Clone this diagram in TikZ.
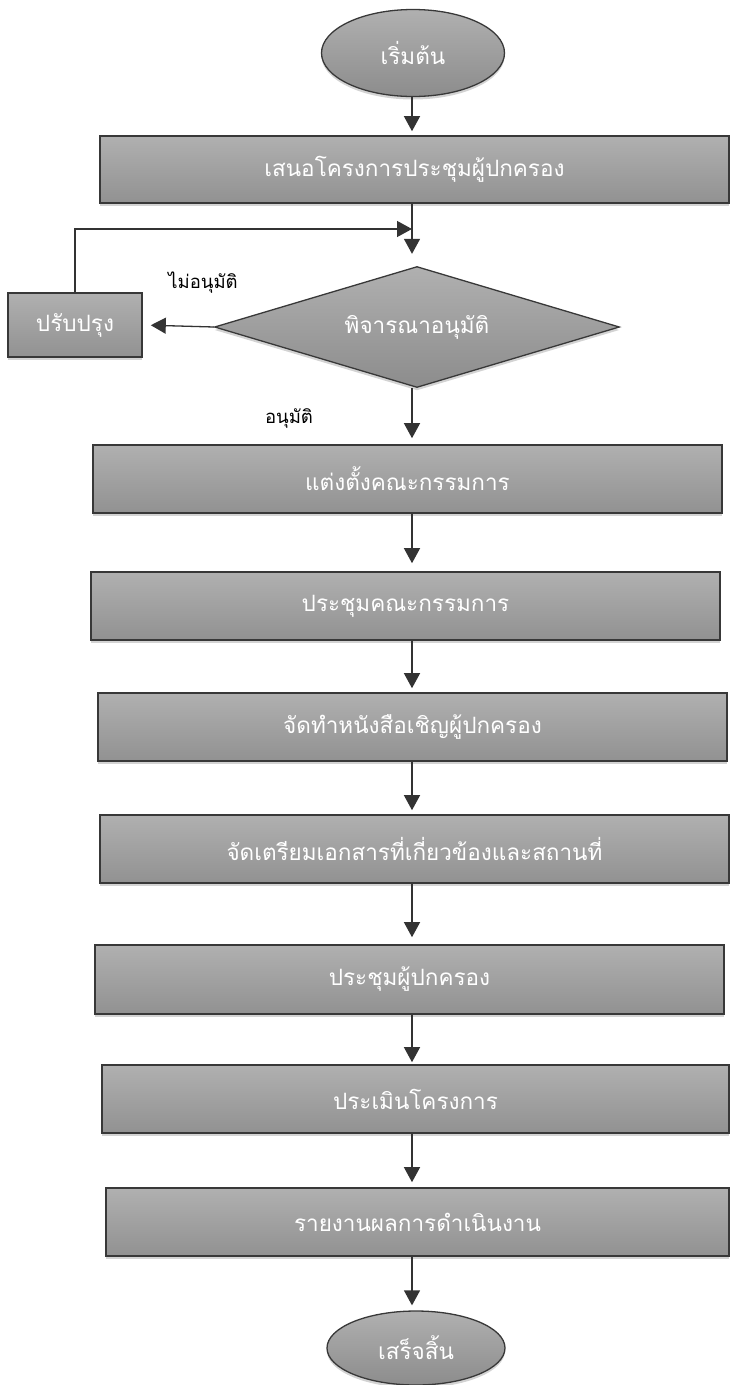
\documentclass[tikz,border=0pt]{standalone}
\usepackage{fontspec}
\newfontfamily\thaifont[Script=Thai]{Loma}
\usetikzlibrary{shapes.geometric,arrows.meta,shadows}

\tikzset{
    process/.style={rectangle, draw=black!78, line width=1.6pt, top color=black!31, bottom color=black!43,
        text=white, font=\thaifont\fontsize{22.5}{26}\selectfont,
        drop shadow={shadow xshift=0pt, shadow yshift=-3pt, opacity=0.35}},
    terminal/.style={ellipse, draw=black!78, line width=1.3pt, top color=black!31, bottom color=black!45,
        text=white, font=\thaifont\fontsize{22.5}{26}\selectfont,
        drop shadow={shadow xshift=0pt, shadow yshift=-3pt, opacity=0.35}},
    decision/.style={diamond, draw=black!78, line width=1.3pt, top color=black!31, bottom color=black!45,
        text=white, font=\thaifont\fontsize{22.5}{26}\selectfont, inner sep=0pt,
        drop shadow={shadow xshift=0pt, shadow yshift=-3pt, opacity=0.35}},
    flow/.style={draw=black!80, line width=1.3pt, -{Triangle[length=15pt,width=16pt]}},
    remark/.style={text=black, font=\thaifont\fontsize{18.5}{21}\selectfont}
}

\begin{document}
\begin{tikzpicture}[x=1pt, y=-1pt]
        \useasboundingbox (0,0) rectangle (729,1385);
        \coordinate (spine) at (412,0);

        % Draw start and the steps
        \node[terminal, minimum width=183pt, minimum height=87pt] (start) at (413,53) {เริ่มต้น};
        \node[process, minimum width=629pt, minimum height=67pt] (propose) at (414.5,169.5) {เสนอโครงการประชุมผู้ปกครอง};
        \node[decision, minimum width=405pt, minimum height=121pt, aspect=3.35] (approve) at (417,327) {พิจารณาอนุมัติ};
        \node[process, minimum width=134pt, minimum height=64pt] (revise) at (75,325) {ปรับปรุง};
        \node[process, minimum width=629pt, minimum height=68pt] (appoint) at (407.5,479) {แต่งตั้งคณะกรรมการ};
        \node[process, minimum width=629pt, minimum height=68pt] (committee) at (405.5,606) {ประชุมคณะกรรมการ};
        \node[process, minimum width=629pt, minimum height=68pt] (invite) at (412.5,727) {จัดทำหนังสือเชิญผู้ปกครอง};
        \node[process, minimum width=629pt, minimum height=68pt] (prepare) at (414.5,849) {จัดเตรียมเอกสารที่เกี่ยวข้องและสถานที่};
        \node[process, minimum width=629pt, minimum height=69pt] (meeting) at (409.5,979.5) {ประชุมผู้ปกครอง};
        \node[process, minimum width=627pt, minimum height=68pt] (evaluate) at (415.5,1099) {ประเมินโครงการ};
        \node[process, minimum width=623pt, minimum height=68pt] (report) at (417.5,1222) {รายงานผลการดำเนินงาน};
        \node[terminal, minimum width=178pt, minimum height=74pt] (stop) at (416,1348) {เสร็จสิ้น};

        % Labels of the decision
        \node[remark] (rejected) at (203,283) {ไม่อนุมัติ};
        \node[remark] (accepted) at (289,418) {อนุมัติ};

        % Draw arrows
        \coordinate (loop) at (revise.north |- 0,229);
        \draw[flow, shorten >=4pt] (start.south -| spine) -- (propose.north -| spine);
        \draw[flow, shorten >=12pt] (propose.south -| spine) -- (approve.north -| spine);
        \draw[flow, shorten >=8pt] (approve.west) -- (revise.east);
        \draw[flow] (revise.north) -- (loop) -- (loop -| spine);
        \draw[flow, shorten >=6pt] (approve.south -| spine) -- (appoint.north -| spine);
        \draw[flow, shorten >=8pt] (appoint.south -| spine) -- (committee.north -| spine);
        \draw[flow, shorten >=4pt] (committee.south -| spine) -- (invite.north -| spine);
        \draw[flow, shorten >=4pt] (invite.south -| spine) -- (prepare.north -| spine);
        \draw[flow, shorten >=7pt] (prepare.south -| spine) -- (meeting.north -| spine);
        \draw[flow, shorten >=2pt] (meeting.south -| spine) -- (evaluate.north -| spine);
        \draw[flow, shorten >=5pt] (evaluate.south -| spine) -- (report.north -| spine);
        \draw[flow, shorten >=5pt] (report.south -| spine) -- (stop.north -| spine);
    \end{tikzpicture}
\end{document}
